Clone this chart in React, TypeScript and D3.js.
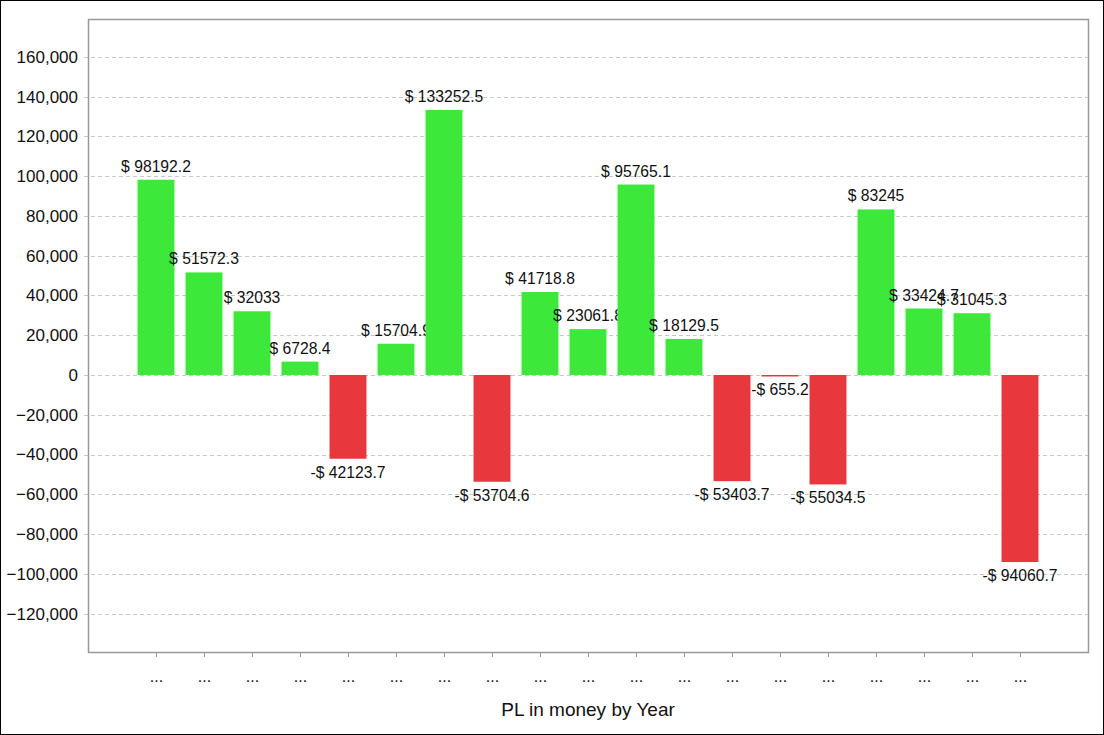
import React, { useEffect, useRef } from "react";
import * as d3 from "d3";

// PL per year (labels on the axis are elided in the source as "...")
const categories = [
  "...", "...", "...", "...", "...", "...", "...", "...", "...", "...",
  "...", "...", "...", "...", "...", "...", "...", "...", "...",
];
const plValues = [
  98192.2, 51572.3, 32033, 6728.4, -42123.7, 15704.9, 133252.5, -53704.6,
  41718.8, 23061.8, 95765.1, 18129.5, -53403.7, -655.2, -55034.5, 83245,
  33424.7, 31045.3, -94060.7,
];
const yTicks = [
  160000, 140000, 120000, 100000, 80000, 60000, 40000, 20000, 0, -20000,
  -40000, -60000, -80000, -100000, -120000,
];
const yDomain = [-139300, 179000];

const WIDTH = 1104;
const HEIGHT = 735;
const GREEN = "#3ce93b";
const RED = "#e8383e";

export default function App() {
  const svgRef = useRef<SVGSVGElement>(null);

  useEffect(() => {
    document.body.style.margin = "0";
    if (!svgRef.current) return;
    const svg = d3.select(svgRef.current);
    svg.selectAll("*").remove();

    const plot = { left: 88, right: 1088, top: 19, bottom: 652 };
    const font = "'Liberation Sans', Arial, sans-serif";

    // outer border
    svg.append("rect")
      .attr("x", 0.5).attr("y", 0.5)
      .attr("width", WIDTH - 1).attr("height", HEIGHT - 1)
      .attr("fill", "#fff").attr("stroke", "#000");

    const y = d3.scaleLinear().domain(yDomain).range([plot.bottom, plot.top]);

    const idx = categories.map((_, i) => String(i));
    const x = d3.scaleBand<string>()
      .domain(idx)
      .range([plot.left + 44, plot.right - 44])
      .paddingInner(0.23)
      .paddingOuter(0.115);

    // gridlines
    svg.append("g")
      .selectAll("line")
      .data(yTicks)
      .join("line")
      .attr("x1", plot.left - 4)
      .attr("x2", plot.right)
      .attr("y1", (d) => Math.round(y(d)) + 0.5)
      .attr("y2", (d) => Math.round(y(d)) + 0.5)
      .attr("stroke", "#c8c8c8")
      .attr("stroke-dasharray", "4,3");

    // y tick labels
    const fmt = d3.format(",");
    svg.append("g")
      .selectAll("text")
      .data(yTicks)
      .join("text")
      .attr("x", 78)
      .attr("y", (d) => y(d))
      .attr("dy", "0.35em")
      .attr("text-anchor", "end")
      .attr("font-family", font)
      .attr("font-size", 17)
      .attr("fill", "#111")
      .text((d) => fmt(d));

    // plot frame
    svg.append("rect")
      .attr("x", plot.left + 0.5)
      .attr("y", plot.top + 0.5)
      .attr("width", plot.right - plot.left)
      .attr("height", plot.bottom - plot.top)
      .attr("fill", "none")
      .attr("stroke", "#999")
      .attr("stroke-width", 1.5);

    // x ticks and labels
    const xg = svg.append("g");
    idx.forEach((k, i) => {
      const cx = Math.round((x(k) ?? 0) + x.bandwidth() / 2) + 0.5;
      xg.append("line")
        .attr("x1", cx).attr("x2", cx)
        .attr("y1", plot.bottom + 1).attr("y2", plot.bottom + 5)
        .attr("stroke", "#999");
      xg.append("text")
        .attr("x", cx)
        .attr("y", plot.bottom + 30)
        .attr("text-anchor", "middle")
        .attr("font-family", font)
        .attr("font-size", 16)
        .attr("fill", "#111")
        .text(categories[i]);
    });

    // bars, each followed by its label (later bars paint over earlier labels)
    const zero = y(0);
    plValues.forEach((v, i) => {
      const k = idx[i];
      const bx = x(k) ?? 0;
      const g = svg.append("g");
      g.append("rect")
        .attr("x", bx)
        .attr("width", x.bandwidth())
        .attr("y", v >= 0 ? y(v) : zero)
        .attr("height", Math.max(1.5, Math.abs(y(v) - zero)))
        .attr("fill", v >= 0 ? GREEN : RED);
      g.append("text")
        .attr("x", bx + x.bandwidth() / 2)
        .attr("y", v >= 0 ? y(v) - 8 : Math.max(y(v), zero + 1.5) + 19)
        .attr("text-anchor", "middle")
        .attr("font-family", font)
        .attr("font-size", 15.7)
        .attr("fill", "#111")
        .text(v >= 0 ? `$ ${v}` : `-$ ${Math.abs(v)}`);
    });

    // axis title
    svg.append("text")
      .attr("x", (plot.left + plot.right) / 2)
      .attr("y", 716)
      .attr("text-anchor", "middle")
      .attr("font-family", font)
      .attr("font-size", 19)
      .attr("fill", "#111")
      .text("PL in money by Year");
  }, []);

  return <svg ref={svgRef} width={WIDTH} height={HEIGHT} style={{ display: "block" }} />;
}
